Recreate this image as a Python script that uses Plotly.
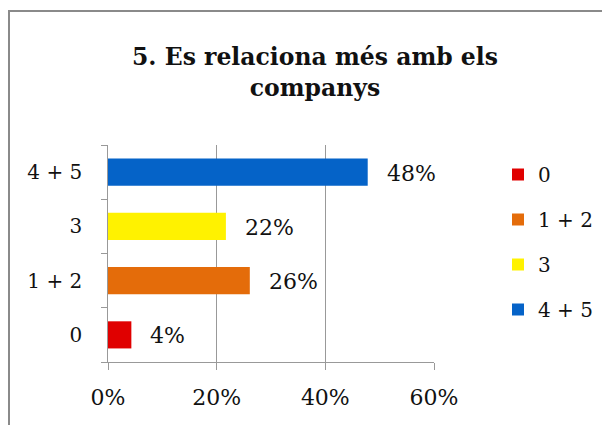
import plotly.graph_objects as go

categories = ["0", "1 + 2", "3", "4 + 5"]
values = [0.043, 0.261, 0.217, 0.478]
labels = ["4%", "26%", "22%", "48%"]
colors = ["#E00000", "#E46C0A", "#FFF200", "#0563C8"]
x_ticks = [0, 0.2, 0.4, 0.6]
x_tick_labels = ["0%", "20%", "40%", "60%"]

FONT = "DejaVu Serif"
OFF = 8  # page body margin

fig = go.Figure()
for i, (c, v, col) in enumerate(zip(categories, values, colors)):
    fig.add_trace(go.Bar(
        y=[c], x=[v], orientation="h", name=c,
        marker=dict(color=col, line=dict(width=0)),
        width=0.5, legendgroup=c,
    ))
    fig.add_annotation(x=v, y=i, text=labels[i], showarrow=False,
                       xanchor="left", xshift=17, yshift=-1,
                       font=dict(family=FONT, size=22, color="#111"))

W, H = 610, 425
L = 108 - OFF
T = 145 - OFF
B = H - (362 - OFF)
R = W - (434 - OFF)
pw, ph = W - L - R, H - T - B

fig.add_shape(type="rect", xref="paper", yref="paper",
              x0=(9 - OFF - L) / pw, x1=(700 - L) / pw,
              y0=(H - 500 - B) / ph, y1=(H - B - (11 - OFF)) / ph,
              line=dict(color="#8a8a8a", width=2), fillcolor="rgba(0,0,0,0)",
              layer="below")

fig.update_layout(
    width=W, height=H,
    margin=dict(l=L, r=R, t=T, b=B, autoexpand=False),
    paper_bgcolor="white", plot_bgcolor="white",
    barmode="overlay",
    title=dict(text="<b>5. Es relaciona més amb els<br>companys</b>",
               x=(315 - OFF) / W, xanchor="center", y=1 - 57 / H, yanchor="top",
               font=dict(family=FONT, size=23.5, color="#111")),
    font=dict(family=FONT, size=20, color="#111"),
    xaxis=dict(range=[0, 0.6], tickvals=x_ticks, ticktext=x_tick_labels,
               showgrid=True, gridcolor="#999", gridwidth=1,
               showline=True, linecolor="#999", linewidth=1,
               ticks="outside", ticklen=7, tickcolor="#999",
               tickfont=dict(family=FONT, size=22), zeroline=False,
               ticklabelstandoff=9, automargin=False),
    yaxis=dict(type="category", categoryorder="array", categoryarray=categories,
               showgrid=False, showline=True, linecolor="#999", linewidth=1,
               ticks="outside", ticklen=6, tickcolor="#999", tickson="boundaries",
               tickfont=dict(family=FONT, size=20), ticksuffix="  ",
               ticklabelstandoff=8, automargin=False),
    legend=dict(x=(498 - OFF - L) / pw, y=(H - B - (155 - OFF)) / ph,
                xanchor="left", yanchor="top",
                traceorder="grouped", tracegroupgap=16,
                font=dict(family=FONT, size=20), itemwidth=30,
                bgcolor="rgba(0,0,0,0)"),
    showlegend=True,
)

fig.write_html("out.html")
